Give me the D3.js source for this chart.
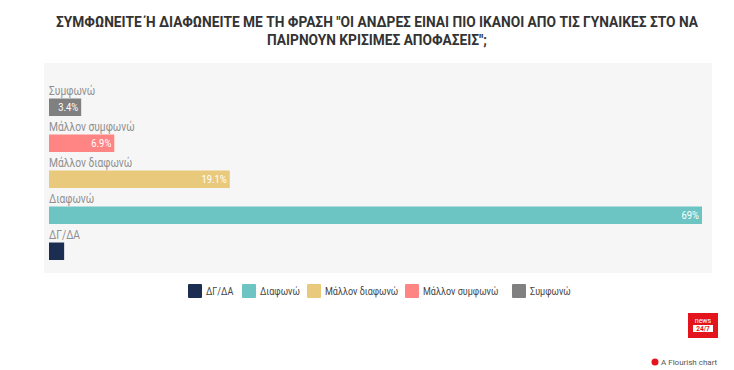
<!DOCTYPE html>
<html>
<head>
<meta charset="utf-8">
<script src="https://cdn.jsdelivr.net/npm/d3@7"></script>
<style>
  body { margin: 0; background: #fff; }
  svg { display: block; }
</style>
</head>
<body>
<div id="chart"></div>
<script>
// data (top to bottom as drawn)
var categories = ['Συμφωνώ', 'Μάλλον συμφωνώ', 'Μάλλον διαφωνώ', 'Διαφωνώ', 'ΔΓ/ΔΑ'];
var values = [3.4, 6.9, 19.1, 69, 1.6];
var colors = ['#808080', '#ff8585', '#e9c97b', '#6cc5c3', '#1b2e52'];
var legendOrder = ['ΔΓ/ΔΑ', 'Διαφωνώ', 'Μάλλον διαφωνώ', 'Μάλλον συμφωνώ', 'Συμφωνώ'];
var titleLines = [
  'ΣΥΜΦΩΝΕΙΤΕ Ή ΔΙΑΦΩΝΕΙΤΕ ΜΕ ΤΗ ΦΡΑΣΗ "ΟΙ ΑΝΔΡΕΣ ΕΙΝΑΙ ΠΙΟ ΙΚΑΝΟΙ ΑΠΟ ΤΙΣ ΓΥΝΑΙΚΕΣ ΣΤΟ ΝΑ',
  'ΠΑΙΡΝΟΥΝ ΚΡΙΣΙΜΕΣ ΑΠΟΦΑΣΕΙΣ";'
];

var W = 734, H = 370;
var narrow = 0.82; // fake condensed font
var svg = d3.select('#chart').append('svg')
  .attr('width', W)
  .attr('height', H);

// title - squeeze so the first line is ~643px wide
var title = svg.selectAll('text.title').data(titleLines)
  .enter().append('text')
  .attr('class', 'title')
  .attr('text-anchor', 'middle')
  .style('font-family', 'Roboto, sans-serif')
  .style('font-weight', 'bold')
  .style('font-size', '15.5px')
  .style('fill', '#333')
  .text(function (d) { return d; });
var tScale = Math.min(1, 643 / title.node().getComputedTextLength());
title.attr('transform', function (d, i) {
  return 'translate(377,' + (27 + i * 18) + ') scale(' + tScale + ',1)';
});

// panel background
svg.append('rect')
  .attr('x', 44).attr('y', 63)
  .attr('width', 668).attr('height', 210)
  .attr('fill', '#f6f6f6');

var x = d3.scaleLinear().domain([0, d3.max(values)]).range([49, 702]);
var y = d3.scaleBand().domain(categories).range([80, 260]).paddingInner(0).paddingOuter(0);
var barH = 17.5;

var rows = svg.selectAll('g.row').data(categories)
  .enter().append('g')
  .attr('class', 'row')
  .attr('transform', function (d) { return 'translate(0,' + y(d) + ')'; });

rows.append('text')
  .attr('transform', 'translate(49,15) scale(' + narrow + ',1)')
  .style('font-family', 'Roboto, sans-serif')
  .style('font-size', '12.5px')
  .style('fill', '#8f8f8f')
  .text(function (d) { return d; });

rows.append('rect')
  .attr('x', x(0))
  .attr('y', 18.5)
  .attr('width', function (d, i) { return x(values[i]) - x(0); })
  .attr('height', barH)
  .attr('fill', function (d, i) { return colors[i]; });

rows.append('text')
  .attr('transform', function (d, i) {
    return 'translate(' + (x(values[i]) - 3) + ',' + (18.5 + barH / 2 + 4) + ') scale(' + narrow + ',1)';
  })
  .attr('text-anchor', 'end')
  .style('font-family', 'Roboto, sans-serif')
  .style('font-size', '11.5px')
  .style('fill', '#fff')
  .text(function (d, i) {
    var w = x(values[i]) - x(0);
    if (w < 25) return '';
    return (values[i] % 1 === 0 ? values[i] : values[i].toFixed(1)) + '%';
  });

// legend
var legendX = [188, 242, 307, 405, 512];
var lg = svg.selectAll('g.legend').data(legendOrder)
  .enter().append('g')
  .attr('class', 'legend')
  .attr('transform', function (d, i) { return 'translate(' + legendX[i] + ',284)'; });

lg.append('rect')
  .attr('width', 14).attr('height', 14)
  .attr('rx', 1)
  .attr('fill', function (d) { return colors[categories.indexOf(d)]; });

lg.append('text')
  .attr('transform', 'translate(18,11) scale(' + narrow + ',1)')
  .style('font-family', 'Roboto, sans-serif')
  .style('font-size', '11px')
  .style('fill', '#444')
  .text(function (d) { return d; });

// logo
var logo = svg.append('g').attr('transform', 'translate(688,313)');
logo.append('rect').attr('width', 30).attr('height', 25).attr('fill', '#e3141b');
logo.append('text').attr('x', 15).attr('y', 10).attr('text-anchor', 'middle')
  .style('font-family', 'Roboto, sans-serif').style('font-size', '7px').style('fill', '#fff')
  .text('news');
logo.append('rect').attr('x', 5).attr('y', 12).attr('width', 20).attr('height', 7).attr('fill', '#fff');
logo.append('text').attr('x', 15).attr('y', 18).attr('text-anchor', 'middle')
  .style('font-family', 'Roboto, sans-serif').style('font-size', '6.5px').style('font-weight', 'bold').style('fill', '#e3141b')
  .text('24/7');

// flourish footer
svg.append('circle').attr('cx', 655).attr('cy', 362).attr('r', 3.5).attr('fill', '#e3141b');
svg.append('text').attr('x', 661).attr('y', 365)
  .style('font-family', 'Roboto, sans-serif').style('font-size', '8px').style('fill', '#555')
  .text('A Flourish chart');
</script>
</body>
</html>
